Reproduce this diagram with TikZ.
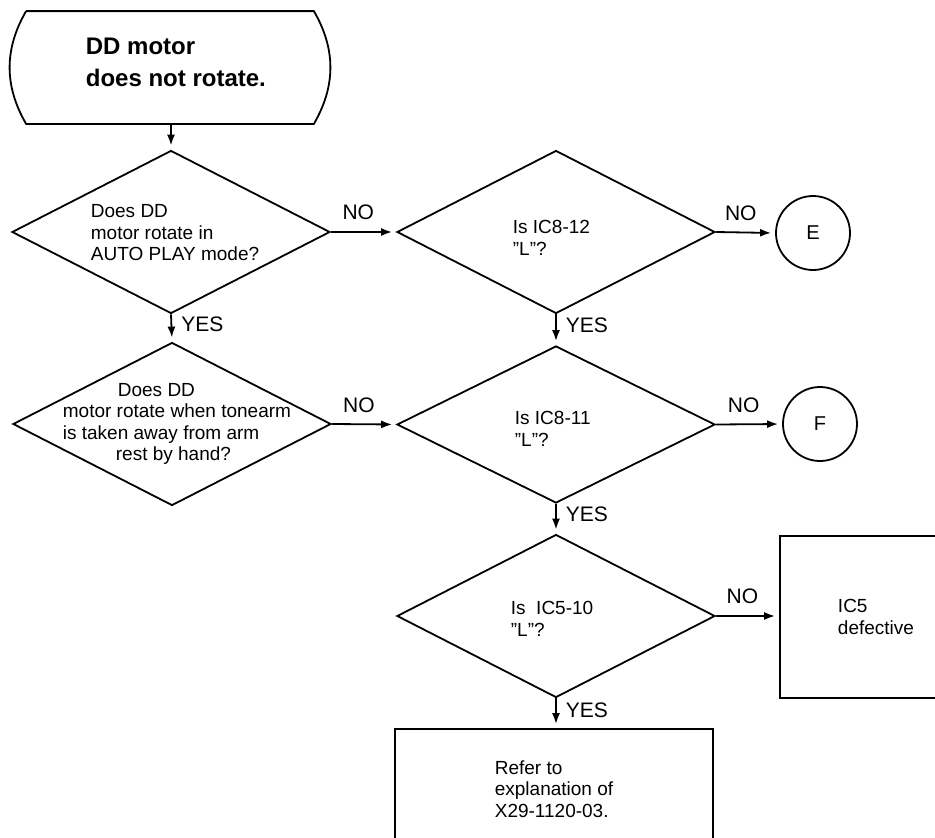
\documentclass[tikz,border=0pt]{standalone}
\usepackage{fontspec}
\setmainfont{Liberation Sans}
\usetikzlibrary{arrows.meta,positioning,shapes.geometric}

\begin{document}
\begin{tikzpicture}[x=1pt, y=-1pt, line width=1.8pt,
  decision/.style={diamond, draw, inner sep=0pt, minimum width=318pt, minimum height=163pt},
  qtext/.style={anchor=west, align=left, inner sep=0pt, font=\fontsize{19}{21.5}\selectfont},
  endbox/.style={draw, align=left, font=\fontsize{19}{21.5}\selectfont},
  jump/.style={circle, draw, minimum size=74pt, font=\fontsize{20}{24}\selectfont},
  lbl/.style={inner sep=0pt, font=\fontsize{21}{24}\selectfont},
  flow/.style={-{Latex[length=11pt,width=8pt]}, shorten >=4pt}]
\useasboundingbox (0,0) rectangle (935,838);
\clip (0,0) rectangle (935,838);

% start terminal with rounded ends
\node[minimum width=286pt, minimum height=111pt, inner sep=0pt] (start) at (170,67.5) {};
\draw (start.north west) -- (start.north east) to[bend left=30] (start.south east)
  -- (start.south west) to[bend left=30] (start.north west);
\node[anchor=west, align=left, inner sep=0pt, font=\bfseries\fontsize{24}{32}\selectfont] (title) at (85,62) {DD motor\\does not rotate.};

% decisions
\node[decision] (d1) at (171,232) {};
\node[decision] (d2) at (556,232) {};
\node[decision] (d3) at (172,424) {};
\node[decision, minimum height=157pt] (d4) at (556,424.5) {};
\node[decision] (d5) at (556,616) {};

\node[qtext] (q1) at (90,233) {Does DD\\motor rotate in\\AUTO PLAY mode?};
\node[qtext] (q2) at (512,238) {Is IC8-12\\''L''?};
\node[qtext] (q3) at (62,424) {\hspace*{55pt}Does DD\\motor rotate when tonearm\\is taken away from arm\\\hspace*{53pt}rest by hand?};
\node[qtext] (q4) at (514,429) {Is IC8-11\\''L''?};
\node[qtext] (q5) at (510,619) {Is\ \ IC5-10\\''L''?};

% connectors to other charts and results
\node[jump] (e) at (813,233) {E};
\node[jump] (f) at (820,424) {F};
\node[endbox, minimum width=192pt, minimum height=162pt] (ic5) at (876,617) {IC5\\defective};
\node[endbox, minimum width=318pt, minimum height=120pt] (refer) at (554,789) {Refer to\\explanation of\\X29-1120-03.};

% arrows
\draw[flow] (d1.north |- start.south) -- (d1.north);
\draw[flow] (d1.east) -- node[lbl, above=11pt, pos=0.42] (no1) {NO} (d2.west);
\draw[flow] (d2.east) -- node[lbl, above=11pt, pos=0.42] (no2) {NO} (e.west);
\draw[flow] (d3.east) -- node[lbl, above=11pt, pos=0.42] (no3) {NO} (d4.west);
\draw[flow] (d4.east) -- node[lbl, above=11pt, pos=0.42] (no4) {NO} (f.west);
\draw[flow] (d5.east) -- node[lbl, above=11pt, pos=0.42] (no5) {NO} (d5.east -| ic5.west);
\draw[flow] (d1.south) -- node[lbl, right=9pt, pos=0.35] (yes1) {YES} (d3.north);
\draw[flow] (d2.south) -- node[lbl, right=9pt, pos=0.35] (yes2) {YES} (d4.north);
\draw[flow] (d4.south) -- node[lbl, right=9pt, pos=0.35] (yes3) {YES} (d5.north);
\draw[flow] (d5.south) -- node[lbl, right=9pt, pos=0.4] (yes4) {YES} (d5.south |- refer.north);
\end{tikzpicture}
\end{document}
